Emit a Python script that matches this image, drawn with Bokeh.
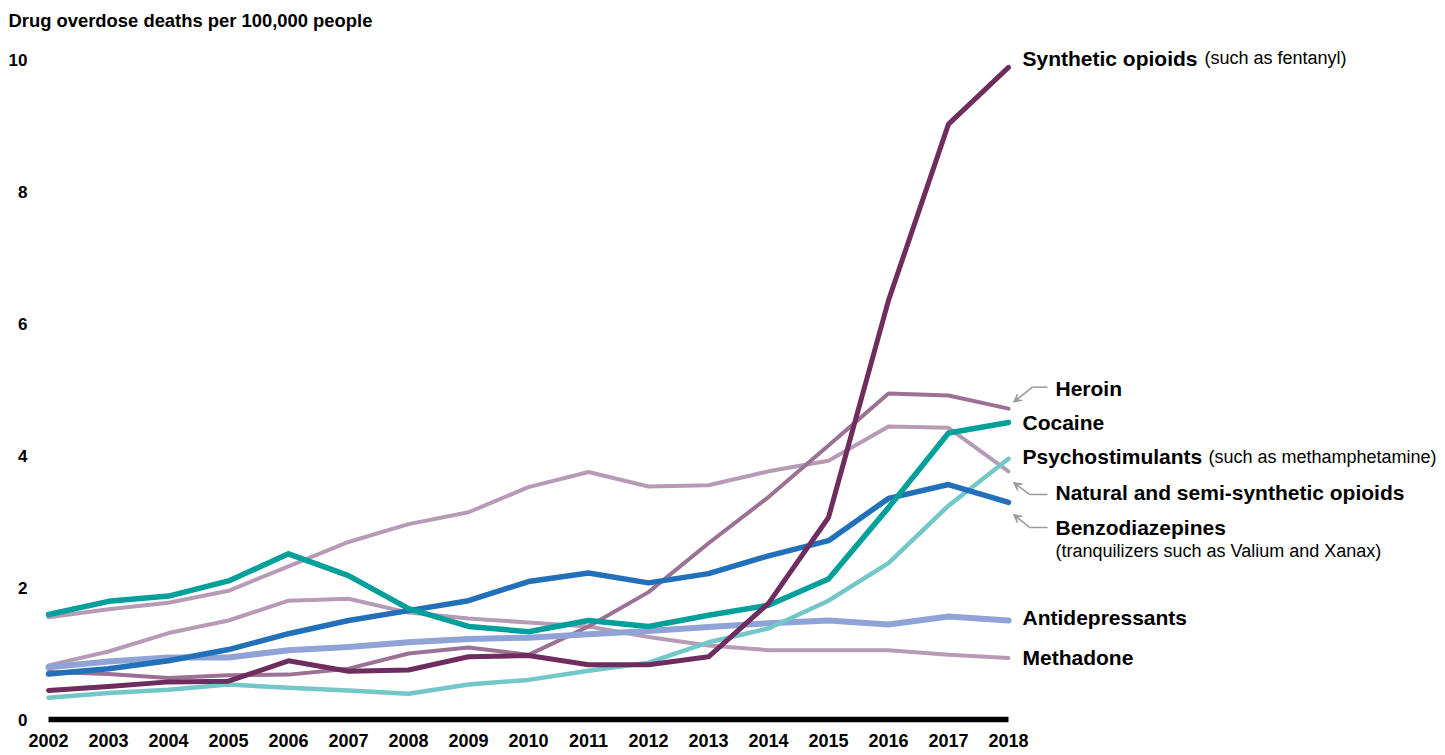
from bokeh.plotting import figure
from bokeh.models import Range1d, FixedTicker, Label, Arrow, VeeHead
from bokeh.embed import file_html
from bokeh.resources import INLINE

# ---------------- data ----------------
years = list(range(2002, 2019))
synthetic = [0.44, 0.50, 0.57, 0.58, 0.89, 0.73, 0.75, 0.95, 0.97, 0.83, 0.83, 0.95, 1.76, 3.06, 6.35, 9.02, 9.88]
heroin = [0.72, 0.69, 0.63, 0.67, 0.68, 0.77, 1.00, 1.09, 0.98, 1.41, 1.93, 2.67, 3.37, 4.15, 4.94, 4.91, 4.71]
cocaine = [1.59, 1.79, 1.87, 2.10, 2.51, 2.18, 1.68, 1.41, 1.33, 1.50, 1.41, 1.58, 1.73, 2.13, 3.21, 4.34, 4.50]
psychostimulants = [0.33, 0.40, 0.45, 0.53, 0.48, 0.44, 0.39, 0.53, 0.60, 0.74, 0.86, 1.17, 1.38, 1.80, 2.37, 3.24, 3.95]
natural = [1.55, 1.67, 1.77, 1.95, 2.32, 2.69, 2.96, 3.14, 3.52, 3.75, 3.53, 3.55, 3.76, 3.92, 4.44, 4.42, 3.76]
benzodiazepines = [0.69, 0.77, 0.89, 1.06, 1.30, 1.50, 1.65, 1.80, 2.09, 2.22, 2.07, 2.21, 2.48, 2.71, 3.35, 3.56, 3.29]
antidepressants = [0.79, 0.88, 0.94, 0.94, 1.05, 1.10, 1.17, 1.22, 1.24, 1.29, 1.34, 1.40, 1.46, 1.50, 1.44, 1.56, 1.50]
methadone = [0.82, 1.03, 1.31, 1.50, 1.80, 1.83, 1.62, 1.53, 1.47, 1.41, 1.25, 1.12, 1.05, 1.05, 1.05, 0.98, 0.93]

y_ticks = [0, 2, 4, 6, 8, 10]
title_text = "Drug overdose deaths per 100,000 people"

# ---------------- layout / styles ----------------
FONT = "Liberation Sans"
W, H = 1445, 755
LEFT, TOP, BOTTOM = 38, 40, 27
PX_X = 60.0     # pixels per year
PX_Y = 66.0     # pixels per unit
X0 = years[0] - 10 / PX_X
X1 = X0 + (W - LEFT) / PX_X
YBOT = -(BOTTOM - 18) / PX_Y
YTOP = YBOT + (H - TOP - BOTTOM) / PX_Y

# draw order bottom -> top : (values, color, width)
series = [
    (methadone, "#b79ab5", 4),
    (natural, "#b79ab5", 4),
    (heroin, "#9b7194", 4),
    (antidepressants, "#8fa3d7", 6),
    (psychostimulants, "#74c7c8", 4.5),
    (benzodiazepines, "#2270b9", 5.5),
    (cocaine, "#00a09a", 5.5),
    (synthetic, "#6f2c5e", 5),
]

p = figure(width=W, height=H, x_range=Range1d(X0, X1), y_range=Range1d(YBOT, YTOP),
           output_backend="svg", toolbar_location=None,
           min_border_left=LEFT, min_border_right=0, min_border_top=TOP, min_border_bottom=BOTTOM)
p.background_fill_color = "white"
p.border_fill_color = "white"
p.outline_line_color = None
p.xgrid.visible = False
p.ygrid.visible = False

p.title.text = title_text
p.title.align = "left"
p.title.offset = -(LEFT - 8)
p.title.vertical_align = "middle"
p.title.text_font = FONT
p.title.text_font_style = "bold"
p.title.text_font_size = "18.4px"
p.title.text_color = "black"
p.title.standoff = 17

for ax in (p.xaxis[0], p.yaxis[0]):
    ax.axis_line_color = None
    ax.major_tick_line_color = None
    ax.minor_tick_line_color = None
    ax.major_tick_out = 0
    ax.major_tick_in = 0
    ax.major_label_text_font = FONT
    ax.major_label_text_font_style = "bold"
    ax.major_label_text_color = "black"

p.xaxis.ticker = FixedTicker(ticks=years)
p.xaxis.major_label_text_font_size = "18px"
p.xaxis.major_label_standoff = 5
p.yaxis.ticker = FixedTicker(ticks=y_ticks)
p.yaxis.major_label_text_font_size = "17px"
p.yaxis.major_label_standoff = 11

# zero baseline
p.line(x=[years[0], years[-1]], y=[y_ticks[0], y_ticks[0]], line_color="black", line_width=5.5)

for vals, color, w in series:
    p.line(x=years, y=vals, line_color=color, line_width=w, line_cap="round", line_join="round")

# series labels: (bold text, normal text, y position, x offset px, normal text offset px)
series_labels = [
    ("Synthetic opioids", "(such as fentanyl)", 10.02, 14, 196),
    ("Heroin", None, 5.02, 47, None),
    ("Cocaine", None, 4.50, 14, None),
    ("Psychostimulants", "(such as methamphetamine)", 3.98, 14, 200),
    ("Natural and semi-synthetic opioids", None, 3.44, 47, None),
    ("Benzodiazepines", None, 2.91, 47, None),
    ("Antidepressants", None, 1.55, 14, None),
    ("Methadone", None, 0.94, 14, None),
]
sub_labels = [("(tranquilizers such as Valium and Xanax)", 2.56, 47)]

x_end = years[-1]
for bold, normal, yv, off, noff in series_labels:
    p.add_layout(Label(x=x_end, y=yv, x_offset=off, text=bold, text_font=FONT,
                       text_font_style="bold", text_font_size="21px", text_color="black",
                       text_baseline="middle", text_align="left"))
    if normal:
        p.add_layout(Label(x=x_end, y=yv, x_offset=noff, text=normal, text_font=FONT,
                           text_font_style="normal", text_font_size="18px", text_color="black",
                           text_baseline="middle", text_align="left"))
for txt, yv, off in sub_labels:
    p.add_layout(Label(x=x_end, y=yv, x_offset=off, text=txt, text_font=FONT,
                       text_font_style="normal", text_font_size="18px", text_color="black",
                       text_baseline="middle", text_align="left"))

# pointer arrows: label y, horizontal (dx from, dx to, dy), tip (dx, dy) in px relative to label anchor
arrows = [
    (5.02, 39, 24, -1, 5, 14),
    (3.44, 39, 21, 2, 5, -10),
    (2.91, 39, 21, 0, 5, -13),
]
ARROW_COLOR = "#9a9a9a"
for yv, hx0, hx1, hy, tx, ty in arrows:
    p.add_layout(Arrow(end=None, x_start=x_end + hx0 / PX_X, y_start=yv - hy / PX_Y,
                       x_end=x_end + hx1 / PX_X, y_end=yv - hy / PX_Y,
                       line_color=ARROW_COLOR, line_width=1.5))
    p.add_layout(Arrow(end=VeeHead(size=8, fill_color=ARROW_COLOR, line_color=ARROW_COLOR, line_width=1),
                       x_start=x_end + hx1 / PX_X, y_start=yv - hy / PX_Y,
                       x_end=x_end + tx / PX_X, y_end=yv - ty / PX_Y,
                       line_color=ARROW_COLOR, line_width=1.5))

open("out.html", "w").write(file_html(p, INLINE))
